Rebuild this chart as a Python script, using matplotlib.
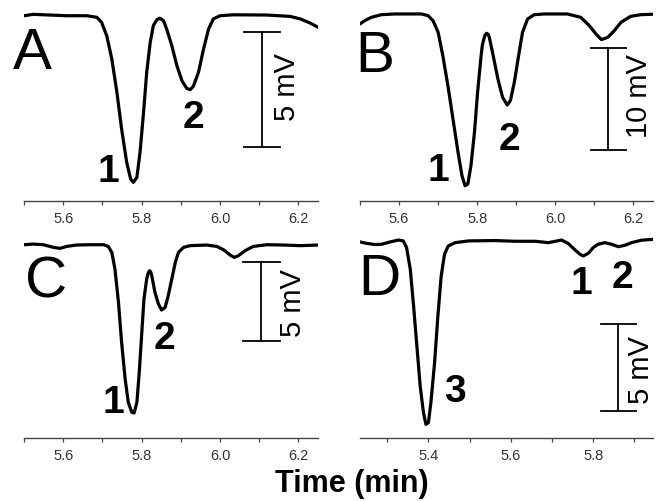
# four chromatogram panels (A-D), signal in mV vs time in min
import matplotlib
matplotlib.use("Agg")
import matplotlib.pyplot as plt
from matplotlib.ticker import MultipleLocator, FormatStrFormatter

plt.rcParams["font.family"] = ["Liberation Sans", "DejaVu Sans"]

# ---- traced data (time in min, signal in mV, baseline = 0) ----
a_time = [5.500, 5.524, 5.566, 5.609, 5.660, 5.686, 5.698, 5.711, 5.724, 5.737,
          5.749, 5.762, 5.772, 5.779, 5.788, 5.796, 5.805, 5.813, 5.822, 5.830,
          5.839, 5.847, 5.856, 5.864, 5.877, 5.890, 5.903, 5.915, 5.924, 5.932,
          5.945, 5.958, 5.971, 5.983, 6.000, 6.034, 6.120, 6.179, 6.205, 6.230, 6.251]
a_signal = [-0.03, 0.03, 0.0, -0.03, -0.03, -0.10, -0.32, -0.90, -1.91, -3.36,
            -4.96, -6.41, -7.13, -7.28, -7.06, -5.97, -4.23, -2.49, -1.19, -0.46,
            -0.20, -0.14, -0.25, -0.61, -1.33, -2.20, -2.86, -3.19, -3.25, -3.10,
            -2.50, -1.48, -0.60, -0.17, -0.03, 0.01, 0.0, -0.06, -0.17, -0.35, -0.54]

b_time = [5.500, 5.512, 5.529, 5.555, 5.589, 5.657, 5.674, 5.687, 5.700, 5.712,
          5.725, 5.738, 5.751, 5.761, 5.769, 5.776, 5.784, 5.793, 5.801, 5.810,
          5.813, 5.817, 5.820, 5.824, 5.828, 5.831, 5.840, 5.853, 5.865, 5.877,
          5.885, 5.895, 5.906, 5.916, 5.929, 5.946, 5.972, 6.031, 6.065, 6.087,
          6.104, 6.118, 6.134, 6.151, 6.168, 6.193, 6.219, 6.248]
b_signal = [-0.98, -0.66, -0.33, -0.07, 0.0, 0.0, -0.16, -0.66, -1.80, -4.10,
            -7.05, -10.33, -13.61, -15.90, -16.89, -16.72, -14.92, -11.64, -7.70, -4.10,
            -3.11, -2.46, -2.07, -1.90, -2.00, -2.30, -3.93, -6.39, -8.20, -8.95,
            -8.52, -6.72, -4.10, -1.80, -0.49, -0.07, 0.0, 0.0, -0.33, -1.15,
            -1.97, -2.52, -2.30, -1.64, -0.82, -0.23, -0.07, -0.03]

c_time = [5.500, 5.524, 5.549, 5.575, 5.592, 5.609, 5.634, 5.668, 5.703, 5.715,
          5.724, 5.732, 5.741, 5.749, 5.758, 5.766, 5.775, 5.781, 5.788, 5.794,
          5.800, 5.806, 5.813, 5.816, 5.820, 5.823, 5.826, 5.834, 5.843, 5.851,
          5.860, 5.868, 5.877, 5.886, 5.894, 5.907, 5.924, 5.966, 5.992, 6.009,
          6.026, 6.036, 6.047, 6.064, 6.085, 6.120, 6.162, 6.205, 6.251]
c_signal = [0.02, 0.06, 0.02, -0.15, -0.21, -0.09, 0.0, 0.02, 0.02, -0.09,
            -0.47, -1.53, -3.66, -6.21, -8.55, -10.04, -10.68, -10.72, -10.04, -8.13,
            -5.79, -3.45, -2.17, -1.85, -1.64, -1.70, -1.96, -3.02, -3.77, -4.15,
            -3.98, -3.23, -2.17, -1.11, -0.47, -0.15, -0.04, 0.0, -0.09, -0.30,
            -0.64, -0.79, -0.68, -0.36, -0.09, 0.02, 0.0, -0.04, 0.0]

d_time = [5.234, 5.250, 5.271, 5.287, 5.307, 5.327, 5.339, 5.347, 5.356, 5.364,
          5.372, 5.380, 5.388, 5.394, 5.400, 5.406, 5.415, 5.423, 5.431, 5.439,
          5.448, 5.465, 5.497, 5.562, 5.610, 5.659, 5.691, 5.723, 5.739, 5.756,
          5.768, 5.776, 5.788, 5.800, 5.812, 5.828, 5.844, 5.861, 5.877, 5.893,
          5.917, 5.945]
d_signal = [0.0, -0.08, -0.15, -0.13, 0.0, 0.11, 0.06, -0.32, -1.56, -3.66,
            -5.95, -8.24, -9.77, -10.44, -10.34, -9.20, -6.91, -4.24, -1.95, -0.71,
            -0.23, -0.04, 0.06, 0.08, 0.04, 0.04, -0.04, 0.11, -0.08, -0.46,
            -0.71, -0.80, -0.65, -0.32, -0.13, -0.04, -0.13, -0.27, -0.19, -0.04,
            0.10, 0.15]

panel_letters = ["A", "B", "C", "D"]
scale_mV = [5, 10, 5, 5]
peak_labels = [["1", "2"], ["1", "2"], ["1", "2"], ["3", "1", "2"]]

# ---- figure ----
W, H = 656, 502
fig = plt.figure(figsize=(W / 100, H / 100), dpi=100)


def px_axes(x0, x1, ytop, ybot):
    return fig.add_axes([x0 / W, 1 - ybot / H, (x1 - x0) / W, (ybot - ytop) / H])


axA = px_axes(24, 318, 5, 202)
axB = px_axes(360, 653, 5, 202)
axC = px_axes(24, 318, 236, 439)
axD = px_axes(360, 653, 233, 439)
axes = [axA, axB, axC, axD]

series = [(a_time, a_signal), (b_time, b_signal), (c_time, c_signal), (d_time, d_signal)]
xlims = [(5.5, 6.25), (5.5, 6.25), (5.5, 6.25), (5.234, 5.945)]
ylims = [(-8.09, 0.48), (-18.39, 0.98), (-12.32, 0.64), (-11.22, 0.57)]

# scale bar: x, top, cap half width, label x, label y
bars = [(6.107, -0.75, 0.047, 6.170, -3.1),
        (6.136, -3.38, 0.045, 6.213, -8.0),
        (6.105, -1.11, 0.047, 6.186, -3.66),
        (5.861, -4.68, 0.043, 5.915, -7.3)]
# peak label positions (data coords)
peak_pos = [[(5.714, -6.8), (5.932, -4.45)],
            [(5.701, -15.3), (5.883, -12.26)],
            [(5.728, -10.04), (5.858, -5.91)],
            [(5.465, -8.53), (5.770, -2.37), (5.871, -1.98)]]

for i, ax in enumerate(axes):
    t, s = series[i]
    ax.plot(t, s, color="black", lw=2.3, solid_capstyle="round", solid_joinstyle="round")
    ax.set_xlim(*xlims[i])
    ax.set_ylim(*ylims[i])
    for side in ["left", "right", "top"]:
        ax.spines[side].set_visible(False)
    ax.spines["bottom"].set_color("#444444")
    ax.spines["bottom"].set_linewidth(1.0)
    ax.set_yticks([])
    ax.xaxis.set_major_locator(MultipleLocator(0.2))
    ax.xaxis.set_minor_locator(MultipleLocator(0.1))
    ax.xaxis.set_major_formatter(FormatStrFormatter("%.1f"))
    ax.tick_params(axis="x", which="both", direction="out", length=3, width=0.9,
                   color="#444444", labelsize=10.5, labelcolor="#333333", pad=4)

    bx, btop, bw, lx, ly = bars[i]
    bbot = btop - scale_mV[i]
    ax.plot([bx, bx], [btop, bbot], color="black", lw=1.3)
    ax.plot([bx - bw, bx + bw], [btop, btop], color="black", lw=1.3)
    ax.plot([bx - bw, bx + bw], [bbot, bbot], color="black", lw=1.3)
    ax.text(lx, ly, f"{scale_mV[i]} mV", rotation=90, fontsize=21,
            ha="center", va="center")

    for lab, (px, py) in zip(peak_labels[i], peak_pos[i]):
        ax.text(px, py, lab, fontsize=28, fontweight="bold", ha="center", va="center")

# panel letters
letter_pos = [(13, 54), (355, 57), (25, 283), (358, 280)]
for letter, (lx, ly) in zip(panel_letters, letter_pos):
    fig.text(lx / W, 1 - ly / H, letter, fontsize=42, ha="left", va="center")

fig.text(352 / W, 1 - 484 / H, "Time (min)", fontsize=22, fontweight="bold",
         ha="center", va="center")

fig.savefig("out.png", dpi=100)
